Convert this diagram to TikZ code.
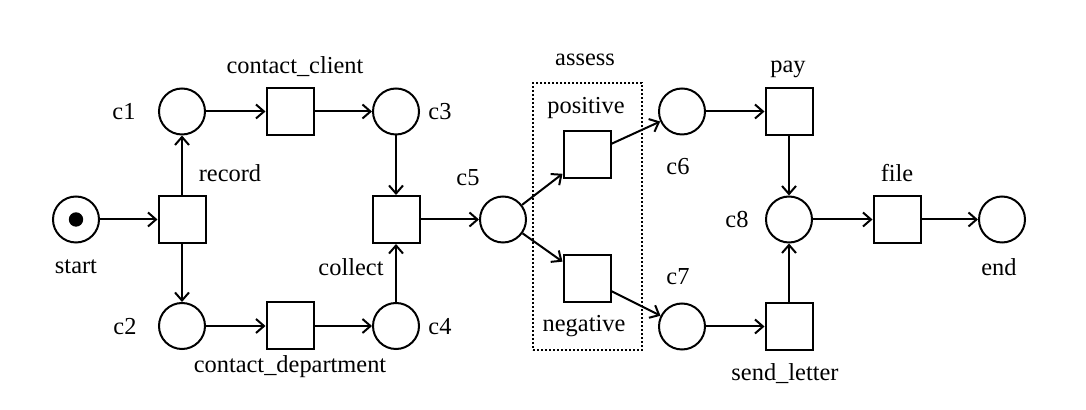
\documentclass[tikz,border=0pt]{standalone}
\usepackage{fontspec}
\setmainfont{Liberation Serif}
\usetikzlibrary{arrows.meta}
\begin{document}
\begin{tikzpicture}[x=0.5pt,y=-0.5pt,
  place/.style={circle,draw,line width=1pt,minimum size=23pt,inner sep=0pt},
  trans/.style={rectangle,draw,line width=1pt,minimum size=23.5pt,inner sep=0pt},
  lbl/.style={font=\fontsize{12.2}{14}\selectfont,inner sep=0pt},
  arc/.style={line width=1pt,-{Straight Barb[length=4pt,width=7pt,line width=1pt]}},
  box/.style={draw,line width=0.9pt,dash pattern=on 0.9pt off 1.1pt}]
\useasboundingbox (0,0) rectangle (1086,410);
% places
\node[place] (start) at (76,219.5) {};
\fill (start.center) circle (3.6pt);
\node[place] (c1) at (182,111.5) {};
\node[place] (c2) at (182,326) {};
\node[place] (c3) at (396,111.5) {};
\node[place] (c4) at (396,326) {};
\node[place] (c5) at (503,219.5) {};
\node[place] (c6) at (682,111.5) {};
\node[place] (c7) at (682,326.5) {};
\node[place] (c8) at (789,219.5) {};
\node[place] (end) at (1002,219.5) {};
% transitions
\node[trans] (record) at (182,219.5) {};
\node[trans] (cclient) at (290,111.5) {};
\node[trans] (cdept) at (290,326) {};
\node[trans] (collect) at (396,219.5) {};
\node[trans] (positive) at (587,155) {};
\node[trans] (negative) at (587,279) {};
\node[trans] (pay) at (789,111.5) {};
\node[trans] (send) at (789,326.5) {};
\node[trans] (file) at (897,219.5) {};
% assess box
\node[box,minimum width=54.5pt,minimum height=133.5pt,inner sep=0pt] (assessbox) at (587.5,216.5) {};
% labels
\node[lbl] (lstart) at (76,267) {start};
\node[lbl] (lc1) at (124,112) {c1};
\node[lbl] (lc2) at (125,327) {c2};
\node[lbl] (lc3) at (440,112) {c3};
\node[lbl] (lc4) at (440,327) {c4};
\node[lbl] (lc5) at (468,178) {c5};
\node[lbl] (lc6) at (678,167) {c6};
\node[lbl] (lc7) at (678,277) {c7};
\node[lbl] (lc8) at (737,220) {c8};
\node[lbl] (lend) at (999,267) {end};
\node[lbl] (lrecord) at (230,173) {record};
\node[lbl] (lcclient) at (295,67) {contact\_client};
\node[lbl] (lcdept) at (290,367) {contact\_department};
\node[lbl] (lcollect) at (351,267) {collect};
\node[lbl] (lassess) at (585,60) {assess};
\node[lbl] (lpositive) at (586,108) {positive};
\node[lbl] (lnegative) at (584,326) {negative};
\node[lbl] (lpay) at (788,69) {pay};
\node[lbl] (lsend) at (785,374) {send\_letter};
\node[lbl] (lfile) at (897,173) {file};
% arcs
\draw[arc] (start) -- (record);
\draw[arc] (record) -- (c1);
\draw[arc] (record) -- (c2);
\draw[arc] (c1) -- (cclient);
\draw[arc] (cclient) -- (c3);
\draw[arc] (c2) -- (cdept);
\draw[arc] (cdept) -- (c4);
\draw[arc] (c3) -- (collect);
\draw[arc] (c4) -- (collect);
\draw[arc] (collect) -- (c5);
\draw[arc] (c5) -- (positive);
\draw[arc] (c5) -- (negative);
\draw[arc] (positive) -- (c6);
\draw[arc] (negative) -- (c7);
\draw[arc] (c6) -- (pay);
\draw[arc] (c7) -- (send);
\draw[arc] (pay) -- (c8);
\draw[arc] (send) -- (c8);
\draw[arc] (c8) -- (file);
\draw[arc] (file) -- (end);
\end{tikzpicture}
\end{document}
